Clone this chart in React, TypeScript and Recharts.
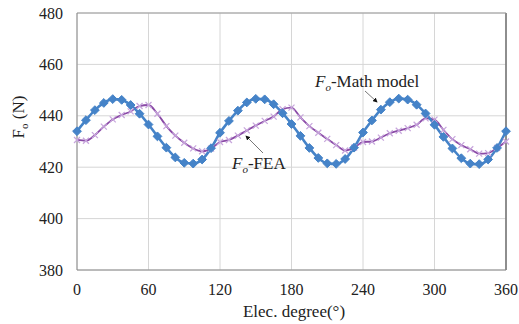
import { LineChart, Line, XAxis, YAxis, CartesianGrid, ReferenceLine } from 'recharts';

const degrees = [
  0, 7.5, 15, 22.5, 30, 37.5, 45, 52.5, 60, 67.5, 75, 82.5, 90, 97.5, 105, 112.5,
  120, 127.5, 135, 142.5, 150, 157.5, 165, 172.5, 180, 187.5, 195, 202.5, 210, 217.5, 225, 232.5,
  240, 247.5, 255, 262.5, 270, 277.5, 285, 292.5, 300, 307.5, 315, 322.5, 330, 337.5, 345, 352.5,
  360,
];

// Fo - Math model (blue, diamonds)
const mathModel = [
  434.0, 438.3, 442.2, 445.0, 446.5, 446.2, 444.2, 440.8, 436.6, 432.0, 427.6, 423.8, 421.7, 421.4, 423.0, 427.4,
  433.4, 438.0, 442.0, 445.2, 446.6, 446.4, 444.5, 441.0, 436.8, 432.2, 427.5, 423.6, 421.5, 421.3, 423.2, 427.6,
  433.5, 438.2, 442.4, 445.3, 446.7, 446.3, 444.3, 440.9, 436.5, 431.8, 427.3, 423.5, 421.4, 421.2, 423.0, 427.5,
  434.0,
];

// Fo - FEA (purple, crosses)
const fea = [
  430.6, 430.3, 432.5, 435.8, 438.6, 440.3, 441.7, 443.8, 444.2, 440.8, 436.0, 432.3, 429.5, 427.3, 426.2, 427.2,
  429.8, 430.6, 432.3, 434.3, 436.2, 438.0, 439.7, 442.6, 443.2, 439.4, 436.0, 433.4, 431.0, 428.6, 426.5, 427.6,
  429.8, 430.0, 431.5, 433.2, 434.2, 435.2, 436.5, 439.0, 438.5, 434.5, 430.9, 428.6, 427.0, 425.3, 425.5, 427.5,
  430.0,
];

const xTicks = [0, 60, 120, 180, 240, 300, 360];
const yTicks = [380, 400, 420, 440, 460, 480];

const data = degrees.map((d, i) => ({ deg: d, math: mathModel[i], fea: fea[i] }));

const FONT = '"Liberation Serif", "DejaVu Serif", serif';
const BLUE = '#4583c8';
const PURPLE = '#8a4aa6';
const LAVENDER = '#c7a5dc';

function Diamond(props: any) {
  const { cx, cy } = props;
  if (cx == null || cy == null) return null;
  const r = 4.4;
  return (
    <polygon
      points={`${cx},${cy - r} ${cx + r},${cy} ${cx},${cy + r} ${cx - r},${cy}`}
      fill={BLUE}
      stroke={BLUE}
      strokeWidth={1}
      strokeLinejoin="round"
    />
  );
}

function Cross(props: any) {
  const { cx, cy } = props;
  if (cx == null || cy == null) return null;
  const r = 3;
  return (
    <g stroke={LAVENDER} strokeWidth={1.2}>
      <line x1={cx - r} y1={cy - r} x2={cx + r} y2={cy + r} />
      <line x1={cx - r} y1={cy + r} x2={cx + r} y2={cy - r} />
    </g>
  );
}

function XTick(props: any) {
  const { x, y, payload } = props;
  return (
    <text x={x} y={y} dy="0.71em" textAnchor="middle" fontSize={16} fontFamily={FONT} fill="#222">
      {payload.value}
    </text>
  );
}

function YTick(props: any) {
  const { x, y, payload } = props;
  return (
    <text x={x} y={y} dy="0.35em" textAnchor="end" fontSize={16} fontFamily={FONT} fill="#222">
      {payload.value}
    </text>
  );
}

export default function App() {
  return (
    <div
      style={{ position: 'absolute', left: 0, top: 0, width: 519, height: 324, background: '#fff', fontFamily: FONT }}
    >
      <LineChart width={519} height={324} data={data} margin={{ top: 13, right: 13, left: 0, bottom: 0 }}>
        <CartesianGrid stroke="#d6d6d6" strokeWidth={1} />
        <XAxis
          dataKey="deg"
          type="number"
          domain={[0, 360]}
          ticks={xTicks}
          tickSize={0}
          tickMargin={14}
          height={54}
          axisLine={{ stroke: '#8a8a8a' }}
          tick={<XTick />}
        />
        <YAxis
          type="number"
          domain={[380, 480]}
          ticks={yTicks}
          tickSize={0}
          tickMargin={14}
          width={77}
          axisLine={{ stroke: '#8a8a8a' }}
          tick={<YTick />}
        />
        <ReferenceLine x={360} stroke="#6f6f6f" strokeWidth={1.5} />
        <ReferenceLine y={480} stroke="#9a9a9a" />
        <Line
          type="monotone"
          dataKey="fea"
          stroke={PURPLE}
          strokeWidth={1.8}
          dot={<Cross />}
          isAnimationActive={false}
        />
        <Line
          type="monotone"
          dataKey="math"
          stroke={BLUE}
          strokeWidth={2.6}
          dot={<Diamond />}
          isAnimationActive={false}
        />
      </LineChart>
      <svg
        width={519}
        height={324}
        style={{ position: 'absolute', left: 0, top: 0, pointerEvents: 'none' }}
        fontFamily={FONT}
      >
        <defs>
          <marker id="ah" markerWidth="6" markerHeight="6" refX="5" refY="3" orient="auto">
            <path d="M0,0 L6,3 L0,6 z" fill="#111" />
          </marker>
        </defs>
        <text x={294} y={317} textAnchor="middle" fontSize={17} fill="#222">
          Elec. degree(°)
        </text>
        <text transform="translate(24,117) rotate(-90)" textAnchor="middle" fontSize={17} fill="#222">
          F<tspan fontSize={11} dy={4}>o</tspan>
          <tspan dy={-4}> (N)</tspan>
        </text>
        <text x={315} y={87} fontSize={17} fill="#222">
          <tspan fontStyle="italic">F</tspan>
          <tspan fontStyle="italic" fontSize={11} dy={4}>o</tspan>
          <tspan dy={-4}>-Math model</tspan>
        </text>
        <line x1={365} y1={91} x2={377} y2={102} stroke="#555" strokeWidth={0.8} markerEnd="url(#ah)" />
        <text x={232} y={169} fontSize={17} fill="#222">
          <tspan fontStyle="italic">F</tspan>
          <tspan fontStyle="italic" fontSize={11} dy={4}>o</tspan>
          <tspan dy={-4}>-FEA</tspan>
        </text>
        <line x1={263} y1={153} x2={246} y2={136} stroke="#555" strokeWidth={0.8} markerEnd="url(#ah)" />
      </svg>
    </div>
  );
}
